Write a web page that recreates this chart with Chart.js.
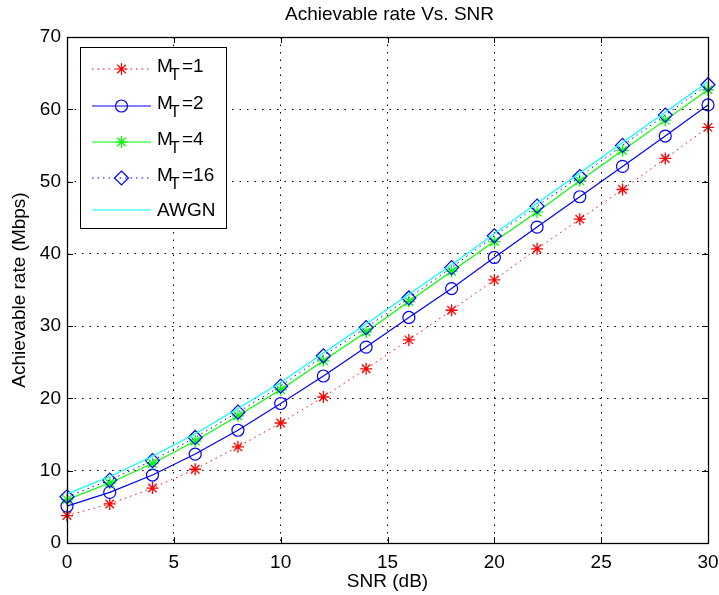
<!DOCTYPE html>
<html>
<head>
<meta charset="utf-8">
<title>Achievable rate Vs. SNR</title>
<script src="https://cdn.jsdelivr.net/npm/chart.js@4.4.1/dist/chart.umd.min.js"></script>
<style>
  html, body { margin: 0; padding: 0; background: #fff; }
  canvas { display: block; }
</style>
</head>
<body>
<canvas id="rateChart" width="719" height="595"></canvas>
<script>
// SNR (dB) on the x axis
const snr = [0, 2, 4, 6, 8, 10, 12, 14, 16, 18, 20, 22, 24, 26, 28, 30];

// achievable rate (Mbps)
const rateMt1 = [3.8, 5.4, 7.6, 10.2, 13.3, 16.6, 20.2, 24.1, 28.1, 32.2, 36.4, 40.7, 44.8, 48.9, 53.2, 57.5];
const rateMt2 = [5.1, 7.0, 9.4, 12.3, 15.6, 19.3, 23.1, 27.1, 31.2, 35.2, 39.5, 43.7, 47.9, 52.1, 56.3, 60.6];
const rateMt4 = [6.0, 8.3, 11.0, 14.1, 17.6, 21.2, 25.2, 29.2, 33.4, 37.6, 41.7, 45.8, 50.1, 54.3, 58.5, 62.7];
const rateMt16 = [6.4, 8.7, 11.4, 14.6, 18.1, 21.7, 25.9, 29.8, 33.9, 38.1, 42.5, 46.6, 50.7, 55.0, 59.2, 63.4];
const rateAwgn = [6.8, 9.2, 12.0, 15.1, 18.6, 22.2, 26.3, 30.3, 34.4, 38.5, 42.8, 47.0, 51.2, 55.4, 59.6, 63.8];

const seriesLabels = ["M_T=1", "M_T=2", "M_T=4", "M_T=16", "AWGN"];
const xTicks = [0, 5, 10, 15, 20, 25, 30];
const yTicks = [0, 10, 20, 30, 40, 50, 60, 70];

const FONT = '"Liberation Sans", Arial, Helvetica, sans-serif';
Chart.defaults.font.family = FONT;
Chart.defaults.color = "#000";

function toPoints(values) {
  return snr.map((x, i) => ({ x: x, y: values[i] }));
}

// marker drawing shared by the legend (matlab style markers)
function drawMarker(ctx, style, x, y, r, color) {
  ctx.save();
  ctx.strokeStyle = color;
  ctx.lineWidth = 1.2;
  ctx.setLineDash([]);
  ctx.beginPath();
  if (style === "star") {
    ctx.moveTo(x - r, y); ctx.lineTo(x + r, y);
    ctx.moveTo(x, y - r); ctx.lineTo(x, y + r);
    const d = r * Math.SQRT1_2;
    ctx.moveTo(x - d, y - d); ctx.lineTo(x + d, y + d);
    ctx.moveTo(x - d, y + d); ctx.lineTo(x + d, y - d);
  } else if (style === "circle") {
    ctx.arc(x, y, r, 0, Math.PI * 2);
  } else if (style === "rectRot") {
    ctx.moveTo(x - r, y); ctx.lineTo(x, y - r);
    ctx.lineTo(x + r, y); ctx.lineTo(x, y + r);
    ctx.closePath();
  }
  ctx.stroke();
  ctx.restore();
}

// title centred over the axes
const titlePlugin = {
  id: "axesTitle",
  afterDraw(chart) {
    const { ctx, chartArea } = chart;
    ctx.save();
    ctx.font = "19px " + FONT;
    ctx.fillStyle = "#000";
    ctx.textAlign = "center";
    ctx.textBaseline = "middle";
    ctx.fillText("Achievable rate Vs. SNR", (chartArea.left + chartArea.right) / 2 + 2, 15);
    ctx.restore();
  }
};

// box around axes with inward tick marks on all four sides
const framePlugin = {
  id: "axesFrame",
  afterDatasetsDraw(chart) {
    const { ctx, chartArea, scales } = chart;
    const { left, right, top, bottom } = chartArea;
    const len = 6;
    ctx.save();
    ctx.strokeStyle = "#000";
    ctx.lineWidth = 1;
    ctx.setLineDash([]);
    ctx.beginPath();
    xTicks.forEach((v) => {
      const px = Math.round(scales.x.getPixelForValue(v)) + 0.5;
      ctx.moveTo(px, bottom); ctx.lineTo(px, bottom - len);
      ctx.moveTo(px, top); ctx.lineTo(px, top + len);
    });
    yTicks.forEach((v) => {
      const py = Math.round(scales.y.getPixelForValue(v)) + 0.5;
      ctx.moveTo(left, py); ctx.lineTo(left + len, py);
      ctx.moveTo(right, py); ctx.lineTo(right - len, py);
    });
    ctx.stroke();
    ctx.lineWidth = 1.3;
    ctx.strokeRect(Math.round(left) + 0.5, Math.round(top) + 0.5,
      Math.round(right - left), Math.round(bottom - top));
    ctx.restore();
  }
};

// matlab style legend in the upper left corner
const legendPlugin = {
  id: "boxLegend",
  afterDraw(chart) {
    const ctx = chart.ctx;
    const rowY = [69, 106, 142, 178, 210];
    ctx.save();
    ctx.fillStyle = "#fff";
    ctx.fillRect(80, 47, 146, 181);
    ctx.strokeStyle = "#000";
    ctx.lineWidth = 1;
    ctx.strokeRect(80.5, 47.5, 146, 181);

    chart.data.datasets.forEach((ds, i) => {
      const y = rowY[i];
      ctx.strokeStyle = ds.borderColor;
      ctx.lineWidth = ds.borderWidth;
      ctx.setLineDash(ds.borderDash || []);
      ctx.beginPath();
      ctx.moveTo(92, y);
      ctx.lineTo(151, y);
      ctx.stroke();
      ctx.setLineDash([]);
      if (ds.pointRadius > 0) {
        drawMarker(ctx, ds.pointStyle, 121.5, y, ds.pointRadius, ds.pointBorderColor);
      }

      ctx.fillStyle = "#000";
      ctx.textAlign = "left";
      ctx.textBaseline = "alphabetic";
      const label = seriesLabels[i];
      if (label.indexOf("_") > 0) {
        const main = label.split("_")[0];
        const rest = label.split("_")[1];
        const sub = rest.charAt(0);
        const tail = rest.slice(1);
        ctx.font = "19px " + FONT;
        ctx.fillText(main, 157, y + 3);
        ctx.font = "16px " + FONT;
        ctx.fillText(sub, 170, y + 11);
        ctx.font = "19px " + FONT;
        ctx.fillText(tail, 182, y + 3);
      } else {
        ctx.font = "19px " + FONT;
        ctx.fillText(label, 157, y + 6);
      }
    });
    ctx.restore();
  }
};

const ctx = document.getElementById("rateChart").getContext("2d");
const rateChart = new Chart(ctx, {
  type: "line",
  data: {
    datasets: [
      {
        label: seriesLabels[0],
        data: toPoints(rateMt1),
        borderColor: "#ff0000",
        borderWidth: 1,
        borderDash: [1.5, 4],
        pointStyle: "star",
        pointRadius: 6,
        pointBorderWidth: 1.3,
        pointBorderColor: "#ff0000",
        pointBackgroundColor: "#ff0000",
        order: 5,
      },
      {
        label: seriesLabels[1],
        data: toPoints(rateMt2),
        borderColor: "#0000ff",
        borderWidth: 1.2,
        pointStyle: "circle",
        pointRadius: 6,
        pointBorderWidth: 1.2,
        pointBorderColor: "#0000ff",
        pointBackgroundColor: "rgba(0,0,0,0)",
        order: 4,
      },
      {
        label: seriesLabels[2],
        data: toPoints(rateMt4),
        borderColor: "#00ff00",
        borderWidth: 1.2,
        pointStyle: "star",
        pointRadius: 6,
        pointBorderWidth: 1.3,
        pointBorderColor: "#00ff00",
        pointBackgroundColor: "#00ff00",
        order: 3,
      },
      {
        label: seriesLabels[3],
        data: toPoints(rateMt16),
        borderColor: "#0000ff",
        borderWidth: 1,
        borderDash: [1.5, 4],
        pointStyle: "rectRot",
        pointRadius: 7,
        pointBorderWidth: 1.2,
        pointBorderColor: "#0000ff",
        pointBackgroundColor: "rgba(0,0,0,0)",
        order: 2,
      },
      {
        label: seriesLabels[4],
        data: toPoints(rateAwgn),
        borderColor: "#00ffff",
        borderWidth: 1.2,
        pointRadius: 0,
        order: 1,
      },
    ],
  },
  options: {
    responsive: false,
    animation: false,
    events: [],
    elements: { line: { tension: 0, fill: false } },
    datasets: { line: { clip: false } },
    layout: { padding: { top: 37, right: 11, left: 0, bottom: 0 } },
    plugins: {
      legend: { display: false },
      tooltip: { enabled: false },
      title: { display: false },
    },
    scales: {
      x: {
        type: "linear",
        min: 0,
        max: 30,
        afterBuildTicks: (axis) => { axis.ticks = xTicks.map((v) => ({ value: v })); },
        afterFit: (axis) => { axis.height = 52; axis.paddingLeft = 0; axis.paddingRight = 0; },
        grid: { color: "#000", lineWidth: 1, drawTicks: false },
        border: { display: false, dash: [1.5, 6] },
        ticks: { padding: 8, font: { size: 19 }, maxRotation: 0 },
        title: { display: true, text: "SNR (dB)", font: { size: 19 }, padding: { top: 0, bottom: 2 } },
      },
      y: {
        type: "linear",
        min: 0,
        max: 70,
        afterBuildTicks: (axis) => { axis.ticks = yTicks.map((v) => ({ value: v })); },
        afterFit: (axis) => { axis.width = 67; axis.paddingTop = 0; axis.paddingBottom = 0; },
        grid: { color: "#000", lineWidth: 1, drawTicks: false },
        border: { display: false, dash: [1.5, 6] },
        ticks: { padding: 6, font: { size: 19 } },
        title: { display: true, text: "Achievable rate (Mbps)", font: { size: 19 }, padding: { top: 8, bottom: 0 } },
      },
    },
  },
  plugins: [titlePlugin, framePlugin, legendPlugin],
});
</script>
</body>
</html>
